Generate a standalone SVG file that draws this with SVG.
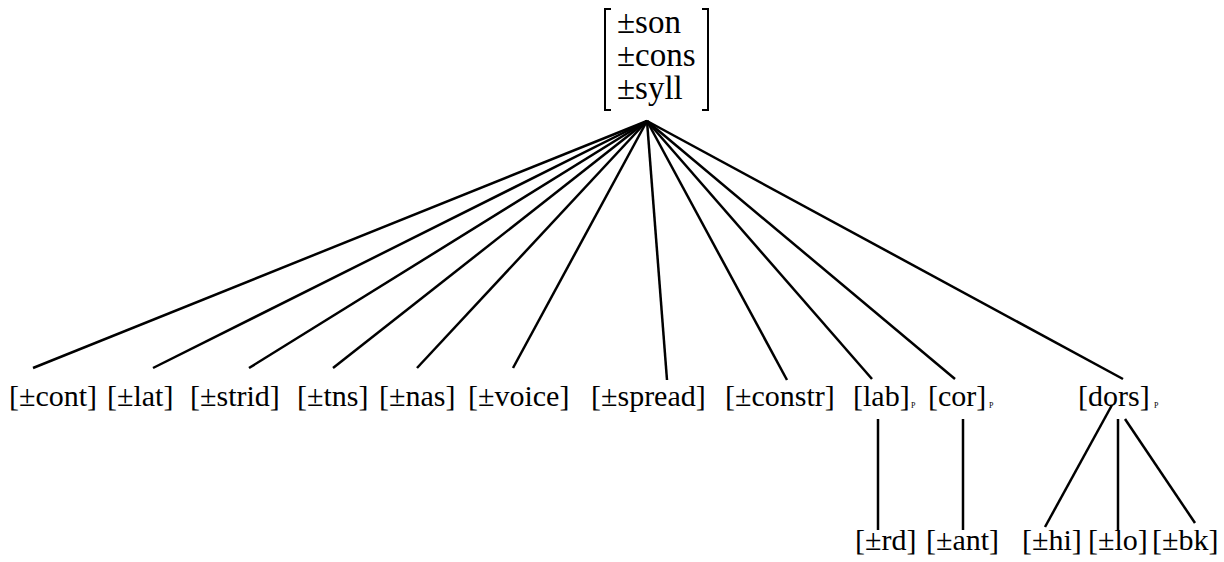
<svg xmlns="http://www.w3.org/2000/svg" width="1224" height="562" viewBox="0 0 1224 562">
<style>
.lbl{font-family:"Liberation Serif",serif;font-size:30px;fill:#000}
.top{font-family:"Liberation Serif",serif;font-size:33px;fill:#000}
.sub{font-family:"Liberation Serif",serif;font-size:8px;fill:#000}
.e{stroke:#000;stroke-width:2.5;fill:none;stroke-linecap:butt}
.br{stroke:#000;stroke-width:2;fill:none}
</style>
<rect width="1224" height="562" fill="#fff"/>
<g id="connectors">
<line class="e" x1="647" y1="121" x2="33" y2="368"/>
<line class="e" x1="647" y1="121" x2="153" y2="368"/>
<line class="e" x1="647" y1="121" x2="249" y2="368"/>
<line class="e" x1="647" y1="121" x2="333" y2="368"/>
<line class="e" x1="647" y1="121" x2="417" y2="368"/>
<line class="e" x1="647" y1="121" x2="513" y2="368"/>
<line class="e" x1="647" y1="121" x2="667" y2="380"/>
<line class="e" x1="647" y1="121" x2="787" y2="380"/>
<line class="e" x1="647" y1="121" x2="872" y2="379"/>
<line class="e" x1="647" y1="121" x2="955" y2="379"/>
<line class="e" x1="647" y1="121" x2="1123" y2="379"/>
<line class="e" x1="878" y1="419" x2="878" y2="530"/>
<line class="e" x1="963" y1="419" x2="963" y2="530"/>
<line class="e" x1="1112" y1="405" x2="1045" y2="527"/>
<line class="e" x1="1118" y1="419" x2="1118" y2="530"/>
<line class="e" x1="1125" y1="419" x2="1195" y2="523"/>
</g>
<g id="root">
<path class="br" d="M611,9 H605 V110 H611"/>
<path class="br" d="M702,9 H708 V110 H702"/>
<text class="top" x="617" y="33">±son</text>
<text class="top" x="617" y="66">±cons</text>
<text class="top" x="617" y="99">±syll</text>
</g>
<g id="cont"><text class="lbl" x="9" y="406">[±cont]</text></g>
<g id="lat"><text class="lbl" x="107" y="406">[±lat]</text></g>
<g id="strid"><text class="lbl" x="190" y="406">[±strid]</text></g>
<g id="tns"><text class="lbl" x="297" y="406">[±tns]</text></g>
<g id="nas"><text class="lbl" x="379" y="406">[±nas]</text></g>
<g id="voice"><text class="lbl" x="468" y="406">[±voice]</text></g>
<g id="spread"><text class="lbl" x="591" y="406">[±spread]</text></g>
<g id="constr"><text class="lbl" x="725" y="406">[±constr]</text></g>
<g id="lab"><text class="lbl" x="853" y="406">[lab]</text><text class="sub" x="911" y="408">P</text></g>
<g id="cor"><text class="lbl" x="928" y="406">[cor]</text><text class="sub" x="989" y="408">P</text></g>
<g id="dors"><text class="lbl" x="1078" y="406">[dors]</text><text class="sub" x="1154" y="408">P</text></g>
<g id="rd"><text class="lbl" x="855" y="550">[±rd]</text></g>
<g id="ant"><text class="lbl" x="926" y="550">[±ant]</text></g>
<g id="hi"><text class="lbl" x="1022" y="550">[±hi]</text></g>
<g id="lo"><text class="lbl" x="1088" y="550">[±lo]</text></g>
<g id="bk"><text class="lbl" x="1152" y="550">[±bk]</text></g>
</svg>
